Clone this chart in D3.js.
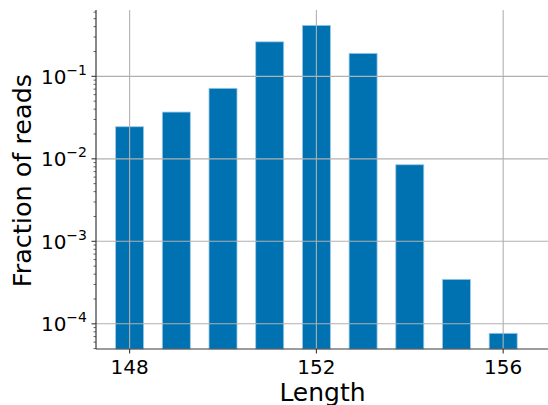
<!DOCTYPE html>
<html>
<head>
<meta charset="utf-8">
<script src="https://cdn.jsdelivr.net/npm/d3@7"></script>
<style>
  html, body { margin: 0; padding: 0; background: #fff; }
  svg { display: block; font-family: "DejaVu Sans", sans-serif; }
</style>
</head>
<body>
<svg id="chart" width="548" height="405"></svg>
<script>
// Read-length distribution (fraction of reads per length)
const lengths = [148, 149, 150, 151, 152, 153, 154, 155, 156];
const fractions = [0.0245, 0.0369, 0.0716, 0.262, 0.415, 0.190, 0.00848, 0.000346, 0.0000767];
const xTickValues = [148, 152, 156];
const yTickExponents = [-4, -3, -2, -1];

const W = 548, H = 405;
const plot = { left: 96, right: 548, top: 10, bottom: 349 };

const svg = d3.select("#chart");

const x = d3.scaleLinear()
  .domain([147.28, 156.96])
  .range([plot.left, plot.right]);

const y = d3.scaleLog()
  .domain([4.95e-5, 0.637])
  .range([plot.bottom, plot.top]);

const barWidth = 0.6;

// Bars
svg.append("g")
  .selectAll("rect")
  .data(lengths.map((l, i) => ({ l, v: fractions[i] })))
  .join("rect")
  .attr("x", d => x(d.l - barWidth / 2))
  .attr("width", d => x(d.l + barWidth / 2) - x(d.l - barWidth / 2))
  .attr("y", d => y(d.v))
  .attr("height", d => plot.bottom - y(d.v))
  .attr("fill", "#0072b2")
  .attr("stroke", "#9fc9e6")
  .attr("stroke-width", 0.8);

// Grid (drawn over the bars)
const grid = svg.append("g").attr("stroke", "#b0b0b0").attr("stroke-width", 1.1);
grid.selectAll("line.h")
  .data(yTickExponents)
  .join("line")
  .attr("class", "h")
  .attr("x1", plot.left).attr("x2", plot.right)
  .attr("y1", e => y(Math.pow(10, e))).attr("y2", e => y(Math.pow(10, e)));
grid.selectAll("line.v")
  .data(xTickValues)
  .join("line")
  .attr("class", "v")
  .attr("x1", d => x(d)).attr("x2", d => x(d))
  .attr("y1", plot.top).attr("y2", plot.bottom);

// Y axis: spine, major and minor ticks
const yAxis = svg.append("g").attr("transform", `translate(${plot.left},0)`);
yAxis.append("line")
  .attr("x1", 0).attr("x2", 0)
  .attr("y1", plot.top).attr("y2", plot.bottom)
  .attr("stroke", "#3a3a3a").attr("stroke-width", 1.2);

const [yMin, yMax] = y.domain();
const minorVals = [];
for (let e = -5; e <= 0; e++) {
  for (let m = 2; m <= 9; m++) {
    const v = m * Math.pow(10, e);
    if (v >= yMin && v <= yMax) minorVals.push(v);
  }
}
yAxis.selectAll("line.minor")
  .data(minorVals)
  .join("line")
  .attr("class", "minor")
  .attr("x1", -2.5).attr("x2", 0)
  .attr("y1", d => y(d)).attr("y2", d => y(d))
  .attr("stroke", "#3a3a3a").attr("stroke-width", 0.8);

yAxis.selectAll("line.major")
  .data(yTickExponents)
  .join("line")
  .attr("class", "major")
  .attr("x1", -4.5).attr("x2", 0)
  .attr("y1", e => y(Math.pow(10, e))).attr("y2", e => y(Math.pow(10, e)))
  .attr("stroke", "#3a3a3a").attr("stroke-width", 1.1);

const yLabels = yAxis.selectAll("text.tick")
  .data(yTickExponents)
  .join("text")
  .attr("class", "tick")
  .attr("x", -9)
  .attr("y", e => y(Math.pow(10, e)) + 7.5)
  .attr("text-anchor", "end")
  .attr("font-size", 20)
  .attr("fill", "#000");
yLabels.append("tspan").text("10");
yLabels.append("tspan")
  .attr("dy", -9)
  .attr("font-size", 14)
  .text(e => "\u2212" + Math.abs(e));

// X axis: spine, ticks, labels
const xAxis = svg.append("g").attr("transform", `translate(0,${plot.bottom})`);
xAxis.append("line")
  .attr("x1", plot.left).attr("x2", plot.right)
  .attr("y1", 0).attr("y2", 0)
  .attr("stroke", "#3a3a3a").attr("stroke-width", 1.2);
xAxis.selectAll("line.tick")
  .data(xTickValues)
  .join("line")
  .attr("class", "tick")
  .attr("x1", d => x(d)).attr("x2", d => x(d))
  .attr("y1", 0).attr("y2", 4.5)
  .attr("stroke", "#3a3a3a").attr("stroke-width", 1.1);
xAxis.selectAll("text.tick")
  .data(xTickValues)
  .join("text")
  .attr("class", "tick")
  .attr("x", d => x(d))
  .attr("y", 24.5)
  .attr("text-anchor", "middle")
  .attr("font-size", 20)
  .attr("fill", "#000")
  .text(d => d);

// Axis titles
svg.append("text")
  .attr("x", (plot.left + 547) / 2 + 1)
  .attr("y", 401)
  .attr("text-anchor", "middle")
  .attr("font-size", 25)
  .attr("fill", "#000")
  .text("Length");

svg.append("text")
  .attr("transform", `translate(31,${(plot.top + plot.bottom) / 2 + 1}) rotate(-90)`)
  .attr("text-anchor", "middle")
  .attr("font-size", 25.5)
  .attr("fill", "#000")
  .text("Fraction of reads");
</script>
</body>
</html>
